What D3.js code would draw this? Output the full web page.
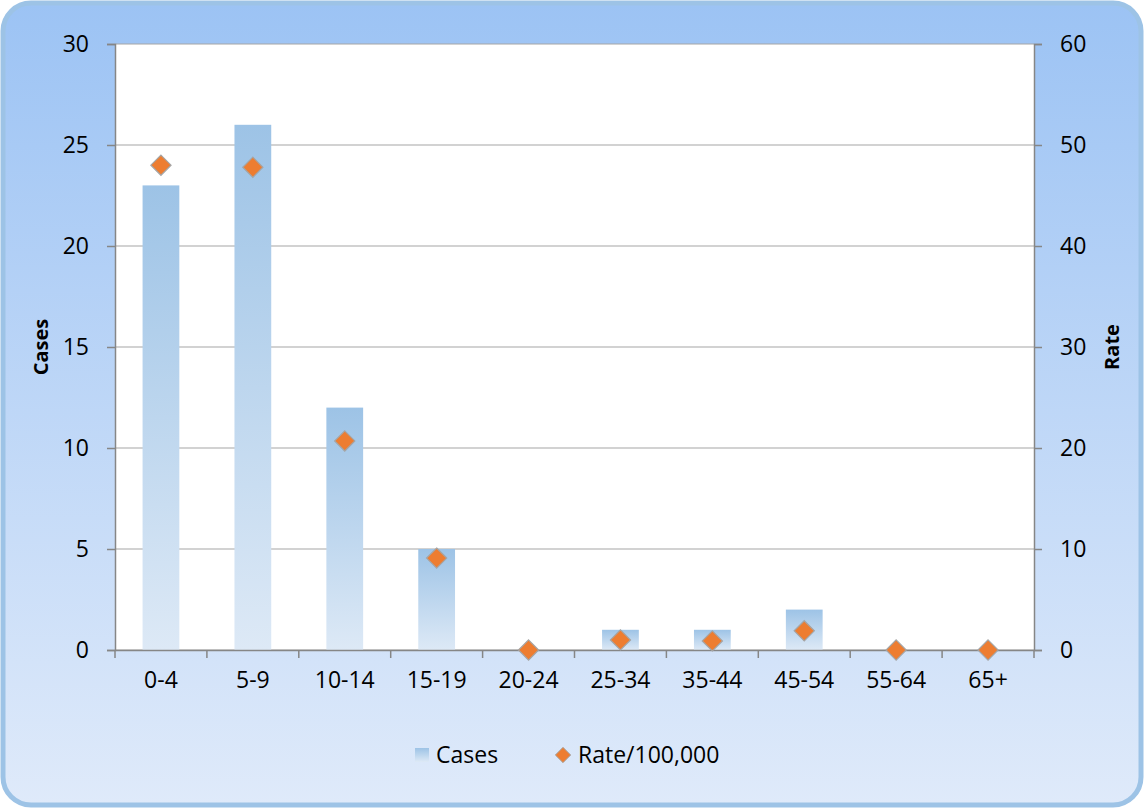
<!DOCTYPE html>
<html>
<head>
<meta charset="utf-8">
<script src="https://cdn.jsdelivr.net/npm/d3@7"></script>
<style>
  body { margin: 0; background: #fff; }
  svg text { font-family: "Open Sans", "Liberation Sans", sans-serif; fill: #000; }
</style>
</head>
<body>
<div id="chart"></div>
<script>
const ageGroups = ["0-4", "5-9", "10-14", "15-19", "20-24", "25-34", "35-44", "45-54", "55-64", "65+"];
const cases = [23, 26, 12, 5, 0, 1, 1, 2, 0, 0];
const rates = [48.0, 47.8, 20.7, 9.1, 0, 1.0, 0.9, 1.9, 0, 0];
const casesTicks = [0, 5, 10, 15, 20, 25, 30];
const rateTicks = [0, 10, 20, 30, 40, 50, 60];

const width = 1144, height = 808;
const margin = { top: 44, right: 110, bottom: 158, left: 115 };

const svg = d3.select("#chart")
    .append("svg")
    .attr("width", width)
    .attr("height", height);

const defs = svg.append("defs");

const bgGrad = defs.append("linearGradient")
    .attr("id", "bgGrad")
    .attr("x1", 0).attr("y1", 0).attr("x2", 0).attr("y2", 1);
bgGrad.append("stop").attr("offset", "0%").attr("stop-color", "#9cc3f4");
bgGrad.append("stop").attr("offset", "100%").attr("stop-color", "#dfeafa");

const barGrad = defs.append("linearGradient")
    .attr("id", "barGrad")
    .attr("x1", 0).attr("y1", 0).attr("x2", 0).attr("y2", 1);
barGrad.append("stop").attr("offset", "0%").attr("stop-color", "#9dc3e6");
barGrad.append("stop").attr("offset", "100%").attr("stop-color", "#dde9f6");

// chart background
svg.append("rect")
    .attr("x", 3).attr("y", 3)
    .attr("width", width - 6).attr("height", height - 6)
    .attr("rx", 28).attr("ry", 28)
    .attr("fill", "url(#bgGrad)")
    .attr("stroke", "#9dc3e6")
    .attr("stroke-width", 5);

const x0 = margin.left, x1 = width - margin.right;
const yTop = margin.top, yBot = height - margin.bottom;

// plot area
svg.append("rect")
    .attr("x", x0).attr("y", yTop)
    .attr("width", x1 - x0).attr("height", yBot - yTop)
    .attr("fill", "#fff");

const x = d3.scaleBand()
    .domain(ageGroups)
    .range([x0, x1])
    .paddingInner(0.6)
    .paddingOuter(0.3);

const xBand = d3.scaleBand().domain(ageGroups).range([x0, x1]);

const yLeft = d3.scaleLinear().domain([0, 30]).range([yBot, yTop]);
const yRight = d3.scaleLinear().domain([0, 60]).range([yBot, yTop]);

// gridlines
svg.append("g")
    .selectAll("line")
    .data(casesTicks)
    .join("line")
    .attr("x1", x0).attr("x2", x1)
    .attr("y1", d => yLeft(d)).attr("y2", d => yLeft(d))
    .attr("stroke", "#a6a6a6")
    .attr("stroke-width", 1.2);

// bars
svg.append("g")
    .selectAll("rect")
    .data(ageGroups.map((g, i) => ({ g, v: cases[i] })).filter(d => d.v > 0))
    .join("rect")
    .attr("x", d => x(d.g))
    .attr("width", x.bandwidth())
    .attr("y", d => yLeft(d.v))
    .attr("height", d => yBot - yLeft(d.v))
    .attr("fill", "url(#barGrad)");

// axes
const leftAxis = svg.append("g")
    .attr("transform", `translate(${x0},0)`)
    .call(d3.axisLeft(yLeft).tickValues(casesTicks).tickSize(8).tickPadding(18));

const rightAxis = svg.append("g")
    .attr("transform", `translate(${x1},0)`)
    .call(d3.axisRight(yRight).tickValues(rateTicks).tickSize(8).tickPadding(18));

const bottomAxis = svg.append("g")
    .attr("transform", `translate(0,${yBot})`)
    .call(d3.axisBottom(xBand).tickSize(0).tickPadding(22));

bottomAxis.append("g")
    .selectAll("line")
    .data(ageGroups.slice(1).map(d => xBand(d)).concat([x0, x1]))
    .join("line")
    .attr("x1", d => d).attr("x2", d => d)
    .attr("y1", 0).attr("y2", 8)
    .attr("stroke", "#868686")
    .attr("stroke-width", 1.5);

[leftAxis, rightAxis, bottomAxis].forEach(a => {
    a.selectAll(".domain").attr("stroke", "#868686").attr("stroke-width", 1.5);
    a.selectAll(".tick line").attr("stroke", "#868686").attr("stroke-width", 1.5);
    a.selectAll("text").style("font-size", "23px").attr("fill", "#000");
});

// markers
const diamond = d3.symbol().type(d3.symbolDiamond2).size(260);
svg.append("g")
    .selectAll("path")
    .data(ageGroups.map((g, i) => ({ g, v: rates[i] })))
    .join("path")
    .attr("d", diamond)
    .attr("transform", d => `translate(${xBand(d.g) + xBand.bandwidth() / 2},${yRight(d.v)})`)
    .attr("fill", "#ed7d31")
    .attr("stroke", "#a5a5a5")
    .attr("stroke-width", 1.2);

// axis titles
svg.append("text")
    .attr("transform", `translate(48,${(yTop + yBot) / 2}) rotate(-90)`)
    .attr("text-anchor", "middle")
    .style("font-size", "20px")
    .style("font-weight", "bold")
    .text("Cases");

svg.append("text")
    .attr("transform", `translate(1119,${(yTop + yBot) / 2}) rotate(-90)`)
    .attr("text-anchor", "middle")
    .style("font-size", "20px")
    .style("font-weight", "bold")
    .text("Rate");

// legend
const legend = svg.append("g").attr("transform", "translate(415,755)");
legend.append("rect")
    .attr("x", 0).attr("y", -7)
    .attr("width", 14).attr("height", 14)
    .attr("fill", "url(#barGrad)");
legend.append("text")
    .attr("x", 21).attr("y", 8)
    .style("font-size", "23px")
    .text("Cases");
legend.append("path")
    .attr("d", d3.symbol().type(d3.symbolDiamond2).size(150))
    .attr("transform", "translate(148,0)")
    .attr("fill", "#ed7d31")
    .attr("stroke", "#a5a5a5")
    .attr("stroke-width", 1);
legend.append("text")
    .attr("x", 163).attr("y", 8)
    .style("font-size", "23px")
    .text("Rate/100,000");
</script>
</body>
</html>
